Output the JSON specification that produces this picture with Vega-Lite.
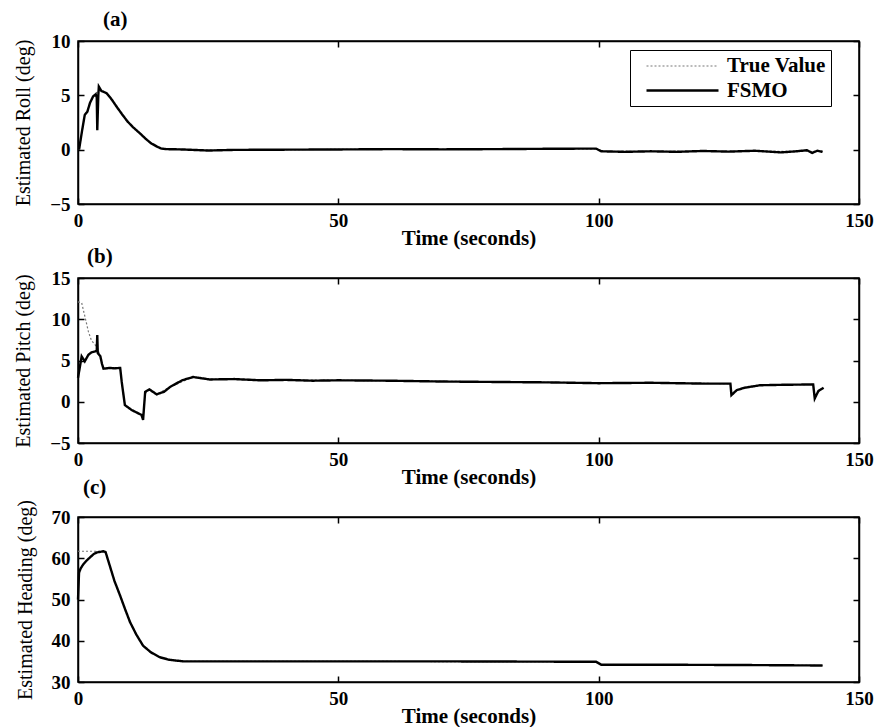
{
  "$schema": "https://vega.github.io/schema/vega-lite/v6.json",
  "padding": {"left": 12, "top": 8, "right": 5, "bottom": 0},
  "background": "white",
  "bounds": "flush",
  "spacing": 74,
  "datasets": {
    "a": [
      {"t": 0.2, "v": 0, "s": "True Value"}, {"t": 0.8, "v": 1.8, "s": "True Value"}, {"t": 1.3, "v": 3.2, "s": "True Value"}, {"t": 1.8, "v": 3.6, "s": "True Value"}, {"t": 2.3, "v": 4.3, "s": "True Value"}, {"t": 2.9, "v": 4.9, "s": "True Value"}, {"t": 3.4, "v": 5.2, "s": "True Value"}, {"t": 4.0, "v": 5.4, "s": "True Value"}, {"t": 4.5, "v": 5.5, "s": "True Value"}, {"t": 5.5, "v": 5.2, "s": "True Value"}, {"t": 6.5, "v": 4.6, "s": "True Value"}, {"t": 7.5, "v": 3.9, "s": "True Value"}, {"t": 8.4, "v": 3.3, "s": "True Value"}, {"t": 9.5, "v": 2.6, "s": "True Value"}, {"t": 10.5, "v": 2.1, "s": "True Value"}, {"t": 11.9, "v": 1.5, "s": "True Value"}, {"t": 13, "v": 1.0, "s": "True Value"}, {"t": 14, "v": 0.6, "s": "True Value"}, {"t": 15.1, "v": 0.3, "s": "True Value"}, {"t": 16, "v": 0.1, "s": "True Value"}, {"t": 17, "v": 0.05, "s": "True Value"}, {"t": 20, "v": 0.02, "s": "True Value"}, {"t": 25, "v": -0.05, "s": "True Value"}, {"t": 30, "v": 0, "s": "True Value"}, {"t": 50, "v": 0.02, "s": "True Value"}, {"t": 70, "v": 0.03, "s": "True Value"}, {"t": 90, "v": 0.07, "s": "True Value"}, {"t": 99.5, "v": 0.08, "s": "True Value"}, {"t": 100.5, "v": -0.15, "s": "True Value"}, {"t": 120, "v": -0.15, "s": "True Value"}, {"t": 143, "v": -0.15, "s": "True Value"},
      {"t": 0.2, "v": 0, "s": "FSMO"}, {"t": 0.8, "v": 1.8, "s": "FSMO"}, {"t": 1.3, "v": 3.2, "s": "FSMO"}, {"t": 1.8, "v": 3.5, "s": "FSMO"}, {"t": 2.3, "v": 4.3, "s": "FSMO"}, {"t": 2.9, "v": 4.9, "s": "FSMO"}, {"t": 3.4, "v": 5.1, "s": "FSMO"}, {"t": 3.6, "v": 4.8, "s": "FSMO"}, {"t": 3.7, "v": 1.8, "s": "FSMO"}, {"t": 3.9, "v": 5.0, "s": "FSMO"}, {"t": 4.0, "v": 5.8, "s": "FSMO"}, {"t": 4.5, "v": 5.4, "s": "FSMO"}, {"t": 5.5, "v": 5.2, "s": "FSMO"}, {"t": 6.5, "v": 4.6, "s": "FSMO"}, {"t": 7.5, "v": 3.9, "s": "FSMO"}, {"t": 8.4, "v": 3.3, "s": "FSMO"}, {"t": 9.5, "v": 2.6, "s": "FSMO"}, {"t": 10.5, "v": 2.1, "s": "FSMO"}, {"t": 11.9, "v": 1.5, "s": "FSMO"}, {"t": 13, "v": 1.0, "s": "FSMO"}, {"t": 14, "v": 0.6, "s": "FSMO"}, {"t": 15.1, "v": 0.3, "s": "FSMO"}, {"t": 16, "v": 0.1, "s": "FSMO"}, {"t": 17, "v": 0.05, "s": "FSMO"}, {"t": 20, "v": 0.02, "s": "FSMO"}, {"t": 25, "v": -0.08, "s": "FSMO"}, {"t": 30, "v": -0.02, "s": "FSMO"}, {"t": 40, "v": 0.0, "s": "FSMO"}, {"t": 50, "v": 0.02, "s": "FSMO"}, {"t": 60, "v": 0.05, "s": "FSMO"}, {"t": 70, "v": 0.03, "s": "FSMO"}, {"t": 80, "v": 0.05, "s": "FSMO"}, {"t": 90, "v": 0.08, "s": "FSMO"}, {"t": 99.5, "v": 0.1, "s": "FSMO"}, {"t": 100.5, "v": -0.15, "s": "FSMO"}, {"t": 105, "v": -0.2, "s": "FSMO"}, {"t": 110, "v": -0.15, "s": "FSMO"}, {"t": 115, "v": -0.2, "s": "FSMO"}, {"t": 120, "v": -0.12, "s": "FSMO"}, {"t": 125, "v": -0.18, "s": "FSMO"}, {"t": 130, "v": -0.1, "s": "FSMO"}, {"t": 135, "v": -0.25, "s": "FSMO"}, {"t": 138, "v": -0.15, "s": "FSMO"}, {"t": 140, "v": -0.05, "s": "FSMO"}, {"t": 141, "v": -0.3, "s": "FSMO"}, {"t": 142, "v": -0.1, "s": "FSMO"}, {"t": 143, "v": -0.2, "s": "FSMO"}
    ],
    "b": [
      {"t": 0, "v": 12.1, "s": "True Value"}, {"t": 0.7, "v": 12.0, "s": "True Value"}, {"t": 1.3, "v": 10.4, "s": "True Value"}, {"t": 2.0, "v": 8.5, "s": "True Value"}, {"t": 2.6, "v": 7.4, "s": "True Value"}, {"t": 3.3, "v": 6.9, "s": "True Value"}, {"t": 3.7, "v": 6.5, "s": "True Value"}, {"t": 4.3, "v": 5.5, "s": "True Value"}, {"t": 4.9, "v": 4.0, "s": "True Value"}, {"t": 8.1, "v": 4.1, "s": "True Value"}, {"t": 8.4, "v": 2.4, "s": "True Value"}, {"t": 9.0, "v": -0.4, "s": "True Value"}, {"t": 10.3, "v": -1.0, "s": "True Value"}, {"t": 12.2, "v": -1.6, "s": "True Value"}, {"t": 12.5, "v": -2.0, "s": "True Value"}, {"t": 12.9, "v": 1.0, "s": "True Value"}, {"t": 13.7, "v": 1.4, "s": "True Value"}, {"t": 15.1, "v": 0.9, "s": "True Value"}, {"t": 17.7, "v": 1.8, "s": "True Value"}, {"t": 22.1, "v": 3.0, "s": "True Value"}, {"t": 25.3, "v": 2.75, "s": "True Value"}, {"t": 50, "v": 2.6, "s": "True Value"}, {"t": 100, "v": 2.3, "s": "True Value"}, {"t": 125.3, "v": 2.2, "s": "True Value"}, {"t": 125.5, "v": 0.9, "s": "True Value"}, {"t": 126.5, "v": 1.4, "s": "True Value"}, {"t": 131, "v": 2.0, "s": "True Value"}, {"t": 141.2, "v": 2.1, "s": "True Value"}, {"t": 141.5, "v": 0.6, "s": "True Value"}, {"t": 142.2, "v": 1.3, "s": "True Value"}, {"t": 143.2, "v": 1.7, "s": "True Value"},
      {"t": 0, "v": 2.9, "s": "FSMO"}, {"t": 0.3, "v": 4.0, "s": "FSMO"}, {"t": 0.7, "v": 5.5, "s": "FSMO"}, {"t": 1.3, "v": 4.9, "s": "FSMO"}, {"t": 2.0, "v": 5.7, "s": "FSMO"}, {"t": 2.6, "v": 6.0, "s": "FSMO"}, {"t": 3.3, "v": 6.1, "s": "FSMO"}, {"t": 3.6, "v": 6.2, "s": "FSMO"}, {"t": 3.7, "v": 8.1, "s": "FSMO"}, {"t": 3.8, "v": 5.9, "s": "FSMO"}, {"t": 4.3, "v": 5.5, "s": "FSMO"}, {"t": 4.6, "v": 4.6, "s": "FSMO"}, {"t": 4.9, "v": 4.0, "s": "FSMO"}, {"t": 6, "v": 4.1, "s": "FSMO"}, {"t": 7, "v": 4.05, "s": "FSMO"}, {"t": 8.1, "v": 4.1, "s": "FSMO"}, {"t": 8.4, "v": 2.4, "s": "FSMO"}, {"t": 9.0, "v": -0.4, "s": "FSMO"}, {"t": 10.3, "v": -1.0, "s": "FSMO"}, {"t": 12.2, "v": -1.6, "s": "FSMO"}, {"t": 12.5, "v": -2.2, "s": "FSMO"}, {"t": 12.9, "v": 1.2, "s": "FSMO"}, {"t": 13.7, "v": 1.5, "s": "FSMO"}, {"t": 15.1, "v": 0.9, "s": "FSMO"}, {"t": 16.5, "v": 1.2, "s": "FSMO"}, {"t": 17.7, "v": 1.8, "s": "FSMO"}, {"t": 20, "v": 2.6, "s": "FSMO"}, {"t": 22.1, "v": 3.0, "s": "FSMO"}, {"t": 25.3, "v": 2.7, "s": "FSMO"}, {"t": 30, "v": 2.75, "s": "FSMO"}, {"t": 35, "v": 2.6, "s": "FSMO"}, {"t": 40, "v": 2.65, "s": "FSMO"}, {"t": 45, "v": 2.55, "s": "FSMO"}, {"t": 50, "v": 2.6, "s": "FSMO"}, {"t": 60, "v": 2.55, "s": "FSMO"}, {"t": 70, "v": 2.45, "s": "FSMO"}, {"t": 80, "v": 2.4, "s": "FSMO"}, {"t": 90, "v": 2.35, "s": "FSMO"}, {"t": 100, "v": 2.25, "s": "FSMO"}, {"t": 110, "v": 2.3, "s": "FSMO"}, {"t": 120, "v": 2.2, "s": "FSMO"}, {"t": 125.3, "v": 2.2, "s": "FSMO"}, {"t": 125.5, "v": 0.8, "s": "FSMO"}, {"t": 126.5, "v": 1.4, "s": "FSMO"}, {"t": 128, "v": 1.7, "s": "FSMO"}, {"t": 131, "v": 2.0, "s": "FSMO"}, {"t": 135, "v": 2.05, "s": "FSMO"}, {"t": 141.2, "v": 2.1, "s": "FSMO"}, {"t": 141.5, "v": 0.4, "s": "FSMO"}, {"t": 142.2, "v": 1.3, "s": "FSMO"}, {"t": 143.2, "v": 1.7, "s": "FSMO"}
    ],
    "c": [
      {"t": 0, "v": 61.7, "s": "True Value"}, {"t": 4.9, "v": 61.7, "s": "True Value"}, {"t": 5.3, "v": 61.5, "s": "True Value"}, {"t": 6.1, "v": 58.2, "s": "True Value"}, {"t": 7.0, "v": 54.5, "s": "True Value"}, {"t": 8.1, "v": 50.9, "s": "True Value"}, {"t": 9.0, "v": 47.8, "s": "True Value"}, {"t": 10.0, "v": 44.5, "s": "True Value"}, {"t": 11.2, "v": 41.5, "s": "True Value"}, {"t": 12.5, "v": 38.8, "s": "True Value"}, {"t": 14, "v": 37.2, "s": "True Value"}, {"t": 15.7, "v": 36.0, "s": "True Value"}, {"t": 17.5, "v": 35.4, "s": "True Value"}, {"t": 20.2, "v": 35.0, "s": "True Value"}, {"t": 50, "v": 35.0, "s": "True Value"}, {"t": 99.5, "v": 34.9, "s": "True Value"}, {"t": 100.5, "v": 34.2, "s": "True Value"}, {"t": 143, "v": 34.0, "s": "True Value"},
      {"t": 0, "v": 50, "s": "FSMO"}, {"t": 0.2, "v": 56.5, "s": "FSMO"}, {"t": 0.5, "v": 57.5, "s": "FSMO"}, {"t": 1.0, "v": 58.5, "s": "FSMO"}, {"t": 1.7, "v": 59.5, "s": "FSMO"}, {"t": 2.3, "v": 60.2, "s": "FSMO"}, {"t": 3.0, "v": 61.0, "s": "FSMO"}, {"t": 3.6, "v": 61.4, "s": "FSMO"}, {"t": 4.9, "v": 61.7, "s": "FSMO"}, {"t": 5.3, "v": 61.5, "s": "FSMO"}, {"t": 6.1, "v": 58.2, "s": "FSMO"}, {"t": 7.0, "v": 54.5, "s": "FSMO"}, {"t": 8.1, "v": 50.9, "s": "FSMO"}, {"t": 9.0, "v": 47.8, "s": "FSMO"}, {"t": 10.0, "v": 44.5, "s": "FSMO"}, {"t": 11.2, "v": 41.5, "s": "FSMO"}, {"t": 12.5, "v": 38.8, "s": "FSMO"}, {"t": 14, "v": 37.2, "s": "FSMO"}, {"t": 15.7, "v": 36.0, "s": "FSMO"}, {"t": 17.5, "v": 35.4, "s": "FSMO"}, {"t": 20.2, "v": 35.0, "s": "FSMO"}, {"t": 30, "v": 35.0, "s": "FSMO"}, {"t": 50, "v": 35.0, "s": "FSMO"}, {"t": 70, "v": 35.0, "s": "FSMO"}, {"t": 99.5, "v": 34.9, "s": "FSMO"}, {"t": 100.5, "v": 34.2, "s": "FSMO"}, {"t": 110, "v": 34.2, "s": "FSMO"}, {"t": 130, "v": 34.1, "s": "FSMO"}, {"t": 143, "v": 34.0, "s": "FSMO"}
    ]
  },
  "resolve": {"scale": {"color": "independent", "strokeDash": "independent", "strokeWidth": "independent"}},
  "vconcat": [
    {
      "width": 781, "height": 163,
      "title": {"text": "(a)", "dx": 25},
      "data": {"name": "a"},
      "layer": [
        {
          "transform": [{"filter": "datum.s === 'True Value'"}],
          "mark": {"type": "line"},
          "encoding": {
            "x": {"field": "t", "type": "quantitative", "scale": {"domain": [0, 150], "nice": false}, "axis": {"values": [0, 50, 100, 150], "title": "Time (seconds)"}},
            "y": {"field": "v", "type": "quantitative", "scale": {"domain": [-5, 10], "nice": false}, "axis": {"values": [-5, 0, 5, 10], "title": "Estimated Roll (deg)"}},
            "color": {"field": "s", "type": "nominal", "scale": {"domain": ["True Value", "FSMO"], "range": ["#777777", "#000000"]}},
            "strokeDash": {"field": "s", "type": "nominal", "scale": {"domain": ["True Value", "FSMO"], "range": [[2, 2], [1, 0]]}},
            "strokeWidth": {"field": "s", "type": "nominal", "scale": {"domain": ["True Value", "FSMO"], "range": [1.2, 2.4]}}
          }
        },
        {
          "transform": [{"filter": "datum.s === 'FSMO'"}],
          "mark": {"type": "line"},
          "encoding": {
            "x": {"field": "t", "type": "quantitative", "axis": null},
            "y": {"field": "v", "type": "quantitative", "axis": null},
            "color": {"field": "s", "type": "nominal"},
            "strokeDash": {"field": "s", "type": "nominal"},
            "strokeWidth": {"field": "s", "type": "nominal"}
          }
        },
        {
          "mark": {"type": "line", "opacity": 0},
          "encoding": {
            "x": {"field": "t", "type": "quantitative", "axis": {"orient": "top", "values": [0, 50, 100, 150], "labels": false, "title": null}},
            "y": {"field": "v", "type": "quantitative", "axis": {"orient": "right", "values": [-5, 0, 5, 10], "labels": false, "title": null}},
            "detail": {"field": "s"}
          }
        }
      ],
      "resolve": {"axis": {"x": "independent", "y": "independent"}}
    },
    {
      "width": 781, "height": 165,
      "title": {"text": "(b)", "dx": 9},
      "data": {"name": "b"},
      "layer": [
        {
          "transform": [{"filter": "datum.s === 'True Value'"}],
          "mark": {"type": "line"},
          "encoding": {
            "x": {"field": "t", "type": "quantitative", "scale": {"domain": [0, 150], "nice": false}, "axis": {"values": [0, 50, 100, 150], "title": "Time (seconds)"}},
            "y": {"field": "v", "type": "quantitative", "scale": {"domain": [-5, 15], "nice": false}, "axis": {"values": [-5, 0, 5, 10, 15], "title": "Estimated Pitch (deg)"}},
            "color": {"field": "s", "type": "nominal", "scale": {"domain": ["True Value", "FSMO"], "range": ["#777777", "#000000"]}, "legend": null},
            "strokeDash": {"field": "s", "type": "nominal", "scale": {"domain": ["True Value", "FSMO"], "range": [[2, 2], [1, 0]]}, "legend": null},
            "strokeWidth": {"field": "s", "type": "nominal", "scale": {"domain": ["True Value", "FSMO"], "range": [1.2, 2.4]}, "legend": null}
          }
        },
        {
          "transform": [{"filter": "datum.s === 'FSMO'"}],
          "mark": {"type": "line"},
          "encoding": {
            "x": {"field": "t", "type": "quantitative", "axis": null},
            "y": {"field": "v", "type": "quantitative", "axis": null},
            "color": {"field": "s", "type": "nominal", "legend": null},
            "strokeDash": {"field": "s", "type": "nominal", "legend": null},
            "strokeWidth": {"field": "s", "type": "nominal", "legend": null}
          }
        },
        {
          "mark": {"type": "line", "opacity": 0},
          "encoding": {
            "x": {"field": "t", "type": "quantitative", "axis": {"orient": "top", "values": [0, 50, 100, 150], "labels": false, "title": null}},
            "y": {"field": "v", "type": "quantitative", "axis": {"orient": "right", "values": [-5, 0, 5, 10, 15], "labels": false, "title": null}},
            "detail": {"field": "s"}
          }
        }
      ],
      "resolve": {"axis": {"x": "independent", "y": "independent"}}
    },
    {
      "width": 781, "height": 165,
      "title": {"text": "(c)", "dx": 5},
      "data": {"name": "c"},
      "layer": [
        {
          "transform": [{"filter": "datum.s === 'True Value'"}],
          "mark": {"type": "line"},
          "encoding": {
            "x": {"field": "t", "type": "quantitative", "scale": {"domain": [0, 150], "nice": false}, "axis": {"values": [0, 50, 100, 150], "title": "Time (seconds)"}},
            "y": {"field": "v", "type": "quantitative", "scale": {"domain": [30, 70], "nice": false}, "axis": {"values": [30, 40, 50, 60, 70], "title": "Estimated Heading (deg)"}},
            "color": {"field": "s", "type": "nominal", "scale": {"domain": ["True Value", "FSMO"], "range": ["#777777", "#000000"]}, "legend": null},
            "strokeDash": {"field": "s", "type": "nominal", "scale": {"domain": ["True Value", "FSMO"], "range": [[2, 2], [1, 0]]}, "legend": null},
            "strokeWidth": {"field": "s", "type": "nominal", "scale": {"domain": ["True Value", "FSMO"], "range": [1.2, 2.4]}, "legend": null}
          }
        },
        {
          "transform": [{"filter": "datum.s === 'FSMO'"}],
          "mark": {"type": "line"},
          "encoding": {
            "x": {"field": "t", "type": "quantitative", "axis": null},
            "y": {"field": "v", "type": "quantitative", "axis": null},
            "color": {"field": "s", "type": "nominal", "legend": null},
            "strokeDash": {"field": "s", "type": "nominal", "legend": null},
            "strokeWidth": {"field": "s", "type": "nominal", "legend": null}
          }
        },
        {
          "mark": {"type": "line", "opacity": 0},
          "encoding": {
            "x": {"field": "t", "type": "quantitative", "axis": {"orient": "top", "values": [0, 50, 100, 150], "labels": false, "title": null}},
            "y": {"field": "v", "type": "quantitative", "axis": {"orient": "right", "values": [30, 40, 50, 60, 70], "labels": false, "title": null}},
            "detail": {"field": "s"}
          }
        }
      ],
      "resolve": {"axis": {"x": "independent", "y": "independent"}}
    }
  ],
  "config": {
    "view": {"stroke": "black", "strokeWidth": 1.5},
    "axis": {"domainColor": "black", "domainWidth": 1.5, "tickColor": "black", "tickWidth": 1.5, "tickSize": -6, "grid": false, "labelFont": "Liberation Serif", "labelFontWeight": "bold", "labelFontSize": 19, "labelColor": "black", "titleFont": "Liberation Serif", "titleColor": "black", "labelFlush": false, "labelOverlap": false},
    "axisX": {"labelPadding": 13, "titleFontWeight": "bold", "titleFontSize": 21, "titlePadding": -3},
    "axisY": {"labelPadding": 14, "titleFontWeight": "normal", "titleFontSize": 20, "titlePadding": 16},
    "title": {"font": "Liberation Serif", "fontWeight": "bold", "fontSize": 21, "anchor": "start", "frame": "group", "offset": 2, "color": "black"},
    "legend": {"orient": "none", "legendX": 552, "legendY": 9, "title": null, "strokeColor": "black", "fillColor": "white", "padding": 5, "rowPadding": 3, "symbolType": "M0,0H7.2", "symbolSize": 400, "labelOffset": 69, "labelFont": "Liberation Serif", "labelFontWeight": "bold", "labelFontSize": 21, "labelColor": "black", "symbolStrokeWidth": 1.5}
  }
}
